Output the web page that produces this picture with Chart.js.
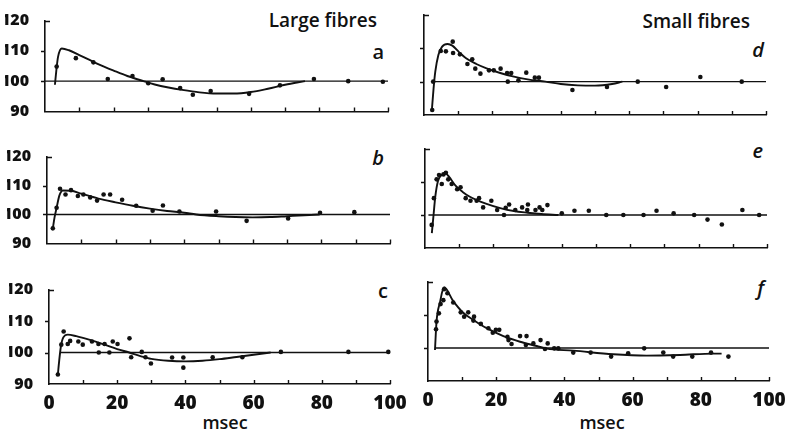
<!DOCTYPE html>
<html><head><meta charset="utf-8">
<script src="https://cdn.jsdelivr.net/npm/chart.js@4/dist/chart.umd.min.js"></script>
<style>
html,body{margin:0;padding:0;background:#fff;width:785px;height:429px;overflow:hidden;position:relative}
canvas{position:absolute}
.t{position:absolute;font-family:'Open Sans',sans-serif;color:#111;white-space:nowrap;height:24px;line-height:24px}
</style></head><body>
<div class="t" style="left:0;width:377px;text-align:right;top:8px;font-size:19px;font-weight:600">Large fibres</div>
<div class="t" style="left:400px;width:350px;text-align:right;top:9px;font-size:19px;font-weight:600">Small fibres</div>
<div class="t" style="left:0;width:384px;text-align:right;top:40px;font-size:20px;font-weight:600">a</div>
<div class="t" style="left:0;width:384px;text-align:right;top:146px;font-size:20px;font-weight:600;font-style:italic">b</div>
<div class="t" style="left:0;width:388px;text-align:right;top:279px;font-size:20px;font-weight:600">c</div>
<div class="t" style="left:400px;width:364px;text-align:right;top:38px;font-size:20px;font-weight:600;font-style:italic">d</div>
<div class="t" style="left:400px;width:363px;text-align:right;top:139px;font-size:20px;font-weight:600;font-style:italic">e</div>
<div class="t" style="left:400px;width:364px;text-align:right;top:276px;font-size:20px;font-weight:600;font-style:italic">f</div>
<div class="t" style="left:175px;width:100px;text-align:center;top:410px;font-size:18px;font-weight:600">msec</div>
<div class="t" style="left:552px;width:100px;text-align:center;top:410px;font-size:18px;font-weight:600">msec</div>
<script>
// ---- data ----
const xTickValues = [0,10,20,30,40,50,60,70,80,90,100];
const yTickValues = [90,100,110,120];

// Panel a (Large fibres)
const aX = [3.4,9,14.1,18.3,25.5,30.1,34.3,39.4,43.1,48.3,59.5,68.5,78.4,88.4,98.5];
const aY = [104.8,107.6,106.2,100.7,101.7,99.3,100.6,97.7,95.5,96.7,95.8,98.6,100.7,100,99.8];
const aFitX = [2.9,3.3,3.8,4.9,7,10,13,16,20,24,28.7,32,36,40,45,50,55,60,65,70,75.8];
const aFitY = [98.8,103.5,108,110.8,110.2,108.6,107,105.4,103.5,101.7,100,98.9,97.9,97.1,96.3,95.9,95.9,96.4,97.5,98.8,100];

// Panel b
const bX = [1.7,2.8,3.8,5.4,7,9,10.6,12.6,14.6,16.5,18.4,21.9,26,30.8,33.8,38.6,49.3,58.2,70.3,79.6,89.6];
const bY = [95.2,102.3,108.9,106.9,108.4,106.4,106.9,105.9,104.8,106.9,106.9,105.1,103,101.3,103.1,101,101,97.8,98.6,100.6,100.8];
const bFitX = [1.7,2.2,2.8,3.6,4.6,7,10,15,20,25,30,35,40,43.5,50,55,60,65,70,75,79.5];
const bFitY = [95.2,99,102.3,106.5,108.3,108.2,107.2,105.5,104.2,103,102,101.2,100.6,100,99.4,99.1,99,99.1,99.4,99.7,100];

// Panel c
const cX = [2.6,3.6,4.3,5.5,6.2,8.6,9.9,12.6,14.5,14.6,16.3,17.7,18.7,20.1,23.6,24.1,27.2,28.3,29.9,36.1,39.4,39.4,48,56.7,68,87.8,99.5];
const cY = [93,102.5,106.7,102.7,103.7,103.5,102.5,103.5,102.7,100,102.7,100,103.5,102.7,104.5,98.5,100.2,98.5,96.5,98.4,98.4,95.2,98.5,98.5,100.2,100.2,100.2];
const cFitX = [2.6,3,3.5,4.2,5.5,8,12,16,20,23.5,27,30,35,40,45,50,55,60,65];
const cFitY = [93,97.5,102,104.8,105.7,105.2,104,102.6,101.1,100,98.8,98,97.4,97.2,97.4,97.9,98.6,99.3,100];

// Panel d (Small fibres)
const dX = [2.4,2.7,4.9,6.4,8.4,8.5,10.5,12.7,14.1,15,16.5,19,20.4,22.4,24.3,25.5,24.5,27.6,29.9,32.4,33.6,43.4,53.5,62.5,70.8,80.8,92.9];
const dY = [91.5,100,109.2,109.1,112,108.6,108.2,105.3,106.7,103.9,102.4,103.4,103.4,103.9,102.6,102.6,100,100.4,102.7,101.2,101.2,97.5,98.4,100,98.4,101.4,100];
const dFitX = [2.3,2.8,3.3,4.2,5.3,6.9,8.3,10.3,12.3,15.3,18.3,22.3,26.3,30.3,35.5,40,45,50,55,58];
const dFitY = [91.5,98,103,108,110.5,111.3,110.8,108.8,107,105.3,104,102.6,101.5,100.7,100,99.3,98.9,98.8,99.3,100];

// Panel e
const eX = [1.95,2.6,3.4,4.1,4.9,5.4,6.1,6.8,7.8,9.4,10.4,11.9,13.3,15.1,15.8,17,19.4,21.1,23.6,24.6,23.1,26.4,28.4,30.1,29.9,32.3,33.5,34.3,35.8,40,43.7,47.9,53,58,63.9,67.7,72.7,78.7,82.6,86.8,92.8,97.7];
const eY = [97,105.1,110.8,112.1,109.4,112.3,112.8,110.8,109.4,107.8,108.4,105.1,104.3,104.3,105.1,102.3,104.3,101.5,102.2,103.2,100,101.5,102.3,103.2,101.5,101.5,102.3,101.5,103,100.5,101.3,101.3,100,100,100,101.3,100.5,100,98.6,97.1,101.5,100];
const eFitX = [2,2.5,3,3.8,5,6,7,9,11,13,15,18,22,26,30,34,39];
const eFitY = [94.5,100,105.5,110.3,112.3,112.6,111.6,108.8,107,105.6,104.6,103.4,102.1,101.2,100.7,100.3,100];

// Panel f
const fX = [2.35,2.5,3.2,3.7,4.5,4.7,5.7,7.4,9.6,10.6,11.8,13.5,13.3,15.5,17.7,19,19.9,20.9,23.3,23.6,24.5,27,28.7,28.9,30.9,33,34.3,35.1,37,38.2,42.6,47.7,53.7,58.7,63.4,69,71.9,77.5,83,88.1];
const fY = [105.7,108,110.5,113.3,114.5,117.8,116.6,113.8,110.8,109.5,110.8,109.5,108.3,107.3,106,104.6,105.5,105.5,103.4,102.4,101.2,103.6,100.9,103.6,101.4,102.4,99.7,101.4,99.9,99.9,98.6,98.6,97.4,98.4,99.9,98.6,97.4,97.4,98.6,97.4];
const fFitX = [2.05,2.5,3.5,4.7,7.4,10.4,13.3,17.2,22.1,27,31.9,34.8,42.6,54.3,64.1,73.9,83.7,86.1];
const fFitY = [99.4,108,113.8,118.4,114.2,110.6,108.5,106,103.6,101.9,100.6,99.8,99.2,98.1,97.7,97.9,98.3,98.3];

// baseline (100 %) start per panel
const baseStart = {a:0, b:0, c:3.3, d:2, e:1, f:2};
const baseEnd = 100;
const baseValue = 100;

const INK = '#111';
const FONT = "'Open Sans', sans-serif";

const tickPlugin = {
  id: 'handTicks',
  afterDraw(chart) {
    const {ctx, chartArea: ca} = chart;
    const x = chart.scales.x, y = chart.scales.y;
    ctx.save();
    ctx.strokeStyle = INK; ctx.lineWidth = 1.4;
    ctx.beginPath();
    xTickValues.forEach(v => {
      if (v === xTickValues[0]) return;
      const px = Math.round(x.getPixelForValue(v)) + 0.5;
      ctx.moveTo(px, ca.bottom); ctx.lineTo(px, ca.bottom - 4);
    });
    [yTickValues[1], yTickValues[2]].forEach(v => {
      const py = Math.round(y.getPixelForValue(v)) + 0.5;
      ctx.moveTo(ca.left, py); ctx.lineTo(ca.left - 4, py);
    });
    const pt = Math.round(y.getPixelForValue(yTickValues[3])) + 0.5;
    ctx.moveTo(ca.left, pt); ctx.lineTo(ca.left + 5, pt);
    ctx.stroke();
    ctx.restore();
  }
};

function toPts(xs, ys) { return xs.map((v, i) => ({x: v, y: ys[i]})); }

function panel(def) {
  const padL = 5, yW = 40, padR = 20, padT = 12;
  const xH = def.bottomRow ? 40 : 0;
  const padB = def.bottomRow ? 0 : 12;
  const left = def.axL - padL - yW;
  const width = def.axR + padR - left;
  const top = def.top - padT;
  const height = def.bottom + xH + padB - top;
  const c = document.createElement('canvas');
  c.width = width; c.height = height;
  c.style.left = left + 'px'; c.style.top = top + 'px';
  c.style.width = width + 'px'; c.style.height = height + 'px';
  document.body.appendChild(c);
  new Chart(c, {
    type: 'scatter',
    data: { datasets: [
      { data: [{x: def.base, y: baseValue}, {x: baseEnd, y: baseValue}], showLine: true, borderColor: INK, borderWidth: 1.4, pointRadius: 0, clip: false },
      { data: toPts(def.fitX, def.fitY), showLine: true, borderColor: INK, borderWidth: 1.9, pointRadius: 0, cubicInterpolationMode: 'monotone', clip: false },
      { data: toPts(def.px, def.py), showLine: false, backgroundColor: INK, borderColor: INK, borderWidth: 0, pointRadius: 2.3, clip: false }
    ]},
    options: {
      responsive: false, animation: false, devicePixelRatio: 1,
      layout: { padding: { left: padL, right: padR, top: padT, bottom: padB } },
      plugins: { legend: { display: false }, tooltip: { enabled: false } },
      events: [],
      scales: {
        x: {
          type: 'linear', min: 0, max: 100,
          grid: { display: false },
          border: { display: true, color: INK, width: 1.6 },
          ticks: { display: !!def.bottomRow, stepSize: 10, autoSkip: false, maxRotation: 0, padding: 0,
                   color: INK, font: { family: FONT, size: 19, weight: '800' },
                   callback: v => (v % 20 === 0 ? String(v) : '') },
          afterFit: s => { s.height = xH; }
        },
        y: {
          type: 'linear', min: 90, max: 120,
          grid: { display: false },
          border: { display: true, color: INK, width: 1.6 },
          ticks: { display: !!def.leftCol, stepSize: 10, padding: 8, color: INK,
                   font: { family: FONT, size: 16, weight: '800' } },
          afterFit: s => { s.width = yW; }
        }
      }
    },
    plugins: [tickPlugin]
  });
}

panel({axL:45, axR:388, top:15, bottom:117, leftCol:true, px:aX, py:aY, fitX:aFitX, fitY:aFitY, base:baseStart.a});
panel({axL:47, axR:390, top:151, bottom:249, leftCol:true, px:bX, py:bY, fitX:bFitX, fitY:bFitY, base:baseStart.b});
panel({axL:49, axR:390, top:284, bottom:384, leftCol:true, bottomRow:true, px:cX, py:cY, fitX:cFitX, fitY:cFitY, base:baseStart.c});
panel({axL:424, axR:766, top:15, bottom:115, px:dX, py:dY, fitX:dFitX, fitY:dFitY, base:baseStart.d});
panel({axL:425, axR:767, top:149, bottom:248, px:eX, py:eY, fitX:eFitX, fitY:eFitY, base:baseStart.e});
panel({axL:428, axR:769, top:282, bottom:381, bottomRow:true, px:fX, py:fY, fitX:fFitX, fitY:fFitY, base:baseStart.f});
</script>
</body></html>
